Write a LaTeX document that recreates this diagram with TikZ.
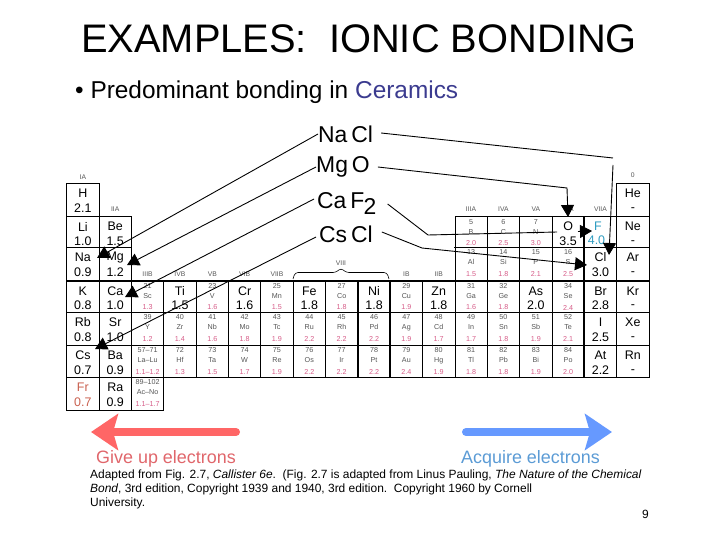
\documentclass[tikz,border=0pt]{standalone}
\usepackage{fontspec}
\setmainfont{Liberation Sans}
\usetikzlibrary{arrows.meta}
\definecolor{ceram}{HTML}{3B3B8F}
\definecolor{paleT}{HTML}{555555}
\definecolor{enpink}{HTML}{D65C88}
\definecolor{fcol}{HTML}{2E9CC0}
\definecolor{frcol}{HTML}{C9604F}
\definecolor{redarrow}{HTML}{FF6666}
\definecolor{bluearrow}{HTML}{6699FF}
\definecolor{giveT}{HTML}{E0666B}
\definecolor{acqT}{HTML}{5B9BD5}
\tikzset{
  cellbox/.style={draw=black,line width=.7pt},
  tiny/.style={inner sep=0,text=paleT,font=\fontsize{7.2}{8}\selectfont},
  tinyen/.style={inner sep=0,text=enpink,font=\fontsize{7.2}{8}\selectfont},
  bigt/.style={inner sep=0,font=\fontsize{12.5}{13}\selectfont},
  grouplabel/.style={inner sep=0,text=paleT,font=\fontsize{6.8}{7}\selectfont},
  compound/.style={inner sep=0,anchor=west,font=\fontsize{23}{25}\selectfont},
  conn/.style={line width=.9pt,black},
  connhead/.style={line width=.9pt,black,-{Triangle[length=12bp,width=13bp]}},
  bigarrow/.style={line width=8bp,line cap=round,-{Stealth[length=27bp,width=36bp,inset=5bp]}},
  foot/.style={inner sep=0,anchor=west,font=\fontsize{12}{14}\selectfont}
}
\def\rowtop#1{\ifcase#1 183.3\or 216.7\or 247.3\or 281\or 312.3\or 345.3\or 377.3\or 410\fi}
\newcommand{\cellframe}[2]{%
  \pgfmathsetmacro\xa{66.7+32.35*#1}\pgfmathsetmacro\xb{66.7+32.35*(#1+1)}%
  \pgfmathsetmacro\ya{\rowtop{#2}}\pgfmathsetmacro\yb{\rowtop{\numexpr#2+1\relax}}%
  \draw[cellbox] (\xa,\ya) rectangle (\xb,\yb);%
  \pgfmathsetmacro\xm{(\xa+\xb)/2}}
% col,row,symbol,value,colour
\newcommand{\bigcell}[5]{\cellframe{#1}{#2}%
  \node[bigt,text=#5] (s#1r#2) at (\xm,\ya+10) {#3};%
  \node[bigt,text=#5] (v#1r#2) at (\xm,\ya+24.5) {#4};}
% noble gas: symbol and a dash
\newcommand{\noblecell}[3]{\cellframe{#1}{#2}%
  \node[bigt] (s#1r#2) at (\xm,\ya+10) {#3};%
  \node[bigt] (v#1r#2) at (\xm,\ya+26) {-};}
% col,row,number,symbol,value
\newcommand{\smallcell}[5]{\cellframe{#1}{#2}%
  \node[tiny] (n#1r#2) at (\xm,\ya+5) {#3};%
  \node[tiny] (s#1r#2) at (\xm,\ya+15) {#4};%
  \node[tinyen] (v#1r#2) at (\xm,\ya+26.5) {#5};}
\begin{document}
\begin{tikzpicture}[x=1bp,y=-1bp]
\useasboundingbox (0,0) rectangle (720,540);
\node[inner sep=0] (title) at (359,39) {\fontsize{40}{42}\selectfont EXAMPLES:\ \ IONIC BONDING};
\node[inner sep=0,anchor=west] (bullet) at (75,92) {\fontsize{24.5}{26}\selectfont •\ Predominant bonding in \textcolor{ceram}{Ceramics}};
% table
\foreach \c/\r/\s/\v in {0/0/H/2.1,0/1/Li/1.0,1/1/Be/1.5,0/2/Na/0.9,1/2/Mg/1.2,0/3/K/0.8,1/3/Ca/1.0,
 3/3/Ti/1.5,5/3/Cr/1.6,7/3/Fe/1.8,9/3/Ni/1.8,11/3/Zn/1.8,14/3/As/2.0,15/1/O/3.5,16/2/Cl/3.0,16/3/Br/2.8,
 0/4/Rb/0.8,1/4/Sr/1.0,16/4/I/2.5,0/5/Cs/0.7,1/5/Ba/0.9,16/5/At/2.2,1/6/Ra/0.9}
 {\bigcell{\c}{\r}{\s}{\v}{black}}
\foreach \c/\r/\s in {17/0/He,17/1/Ne,17/2/Ar,17/3/Kr,17/4/Xe,17/5/Rn}
 {\noblecell{\c}{\r}{\s}}
\cellframe{16}{1}
\node[bigt,text=fcol] (s16r1) at (598,226) {F};
\node[bigt,text=fcol] (v16r1) at (596.5,240) {4.0};
\bigcell{0}{6}{Fr}{0.7}{frcol}
\foreach \c/\r/\n/\s/\v in {12/1/5/B/2.0,13/1/6/C/2.5,14/1/7/N/3.0,
 12/2/13/Al/1.5,13/2/14/Si/1.8,14/2/15/P/2.1,15/2/16/S/2.5,
 2/3/21/Sc/1.3,4/3/23/V/1.6,6/3/25/Mn/1.5,8/3/27/Co/1.8,10/3/29/Cu/1.9,12/3/31/Ga/1.6,13/3/32/Ge/1.8,15/3/34/Se/2.4,
 2/4/39/Y/1.2,3/4/40/Zr/1.4,4/4/41/Nb/1.6,5/4/42/Mo/1.8,6/4/43/Tc/1.9,7/4/44/Ru/2.2,8/4/45/Rh/2.2,9/4/46/Pd/2.2,10/4/47/Ag/1.9,11/4/48/Cd/1.7,12/4/49/In/1.7,13/4/50/Sn/1.8,14/4/51/Sb/1.9,15/4/52/Te/2.1,
 2/5/57--71/La--Lu/1.1--1.2,3/5/72/Hf/1.3,4/5/73/Ta/1.5,5/5/74/W/1.7,6/5/75/Re/1.9,7/5/76/Os/2.2,8/5/77/Ir/2.2,9/5/78/Pt/2.2,10/5/79/Au/2.4,11/5/80/Hg/1.9,12/5/81/Tl/1.8,13/5/82/Pb/1.8,14/5/83/Bi/1.9,15/5/84/Po/2.0,
 2/6/89--102/Ac--No/1.1--1.7}
 {\smallcell{\c}{\r}{\n}{\s}{\v}}
% heavier rules
\draw[line width=1.5pt] (66.7,247.3) -- (131.7,247.3) (454,247.3) -- (648.9,247.3) (66.7,281) -- (648.9,281);
\draw[line width=1.1pt] (357.3,281) -- (357.3,377.3) (389.6,281) -- (389.6,377.3) (583.3,216.7) -- (583.3,377.3);
% group labels
\foreach \c/\y/\t in {0/177/IA,1/209/IIA,2/274/IIIB,3/274/IVB,4/274/VB,5/274/VIB,6/274/VIIB,10/274/IB,11/274/IIB,12/209/IIIA,13/209/IVA,14/209/VA,15/209/VIA,16/209/VIIA,17/175/0}
 {\pgfmathsetmacro\xm{66.7+32.35*(\c+.5)}\node[grouplabel] (g\c) at (\xm,\y) {\t};}
\node[grouplabel] (g8) at (341,263) {VIII};
\draw[line width=.6pt,rounded corners=3bp] (293,279) -- (295,272.5) -- (336,272.5) -- (341,268) -- (346,272.5) -- (387,272.5) -- (389,279);
% compounds
\node[compound] (nacl) at (318,134) {Na\,Cl};
\node[compound] (mgo) at (316,167) {Mg\,O};
\node[compound] (caf) at (317,201) {Ca\,F};
\node[inner sep=0,anchor=west,font=\fontsize{23}{25}\selectfont] (two) at (363.5,207) {2};
\node[compound] (cscl) at (319,234) {Cs\,Cl};
% connector points
\coordinate (naL) at (97,258);
\coordinate (mgL) at (127,265);
\coordinate (caL) at (125,297);
\coordinate (csL) at (95,349);
\coordinate (naR1) at (613,158);
\coordinate (naR2) at (613,165);
\coordinate (naTip) at (609,255);
\coordinate (mgR1) at (567,188);
\coordinate (mgTip) at (568,217);
\coordinate (caR1) at (428,235);
\coordinate (caR2) at (557,232);
\coordinate (caR3) at (578,231.5);
\coordinate (fTip) at (592,231);
\coordinate (csR1) at (422,248);
\coordinate (clTip) at (587,265);
\draw[connhead] (nacl.west) -- (naL);
\draw[connhead] (mgo.west) -- (mgL);
\draw[connhead] (caf.west) ++(-3,-2) -- (caL);
\draw[connhead] (cscl.west) ++(-3,3) -- (csL);
\draw[conn] (nacl.east) ++(8,-1) -- (naR1);
\draw[connhead] (naR2) -- (naTip);
\draw[connhead] (mgo.east) ++(8,0) -- (mgR1) -- (mgTip);
\draw[conn] (two.east) ++(11,-3) -- (caR1) -- (caR2);
\draw[connhead] (caR3) -- (fTip);
\draw[connhead] (cscl.east) ++(9,-2) -- (csR1) -- (clTip);
% big arrows
\coordinate (redS) at (236,432); \coordinate (redE) at (91,432);
\coordinate (bluS) at (466,432); \coordinate (bluE) at (612,432);
\draw[bigarrow,redarrow] (redS) -- (redE);
\draw[bigarrow,bluearrow] (bluS) -- (bluE);
\node[inner sep=0,anchor=west,text=giveT,font=\fontsize{18}{20}\selectfont] (give) at (96,459) {Give up electrons};
\node[inner sep=0,anchor=west,text=acqT,font=\fontsize{18}{20}\selectfont] (acq) at (461,459) {Acquire electrons};
% footnote
\node[foot] (f1) at (90,475.5) {Adapted from Fig. 2.7, \textit{Callister 6e}.\ \ (Fig. 2.7 is adapted from Linus Pauling, \textit{The Nature of the Chemical}};
\node[foot] (f2) at (90,489.5) {\textit{Bond}, 3rd edition, Copyright 1939 and 1940, 3rd edition.\ \ Copyright 1960 by Cornell};
\node[foot] (f3) at (90,503.5) {University.};
\node[inner sep=0,font=\fontsize{12}{14}\selectfont] (page) at (645.5,514.5) {9};
\end{tikzpicture}
\end{document}
